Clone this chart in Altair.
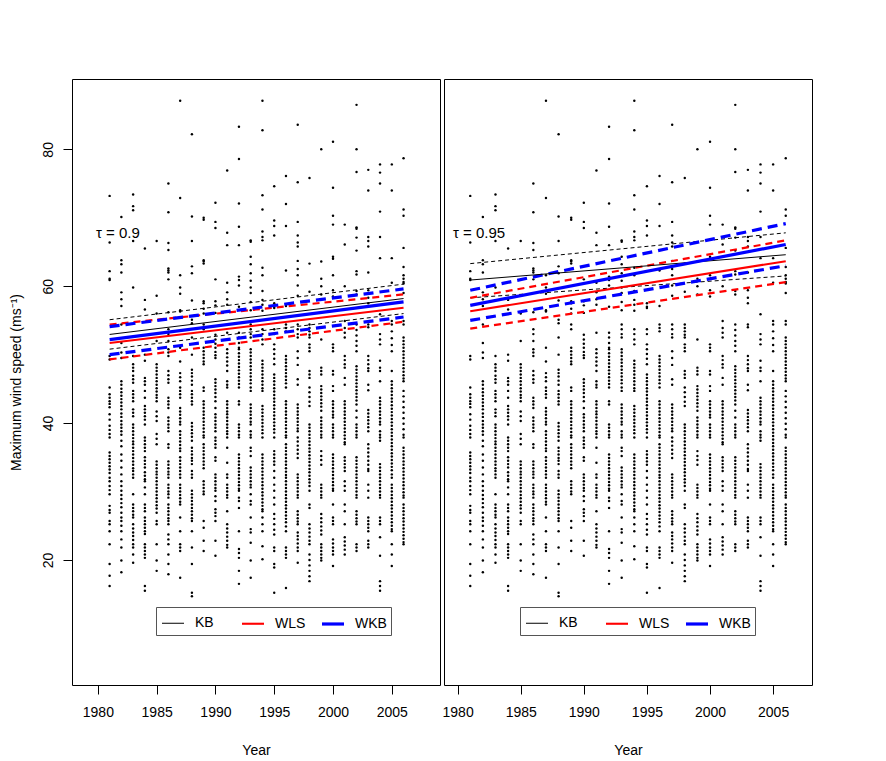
import altair as alt
import pandas as pd

FONT = "Liberation Sans"

# ---------------- scatter data: maximum wind speed per year ----------------
y1981 = [73.2, 66.4, 62.2, 61.1, 60.9, 49.8, 49.3, 45.2, 44.2, 43.7, 43.2, 42.8, 42.3, 41.3, 40.5, 39.6, 39.0, 38.4, 37.9, 35.7, 35.2, 34.7, 34.2, 33.7, 33.2, 32.7, 32.0, 31.5, 30.8, 30.2, 29.6, 27.9, 27.3, 26.9, 25.7, 25.2, 24.2, 22.3, 19.4, 17.7, 16.2]
y1982 = [70.1, 63.8, 63.2, 62.0, 59.1, 58.1, 57.1, 54.4, 51.7, 50.3, 49.5, 46.1, 45.6, 45.0, 44.5, 44.0, 43.5, 43.0, 42.5, 42.0, 41.4, 40.9, 40.3, 39.8, 39.3, 38.8, 38.3, 37.4, 36.6, 35.4, 34.5, 33.5, 32.5, 31.5, 30.8, 30.1, 29.5, 28.9, 28.3, 27.7, 26.9, 26.2, 25.7, 25.0, 24.2, 23.0, 21.8, 19.9, 18.2]
y1983 = [73.4, 71.7, 71.1, 66.6, 59.8, 49.8, 48.6, 48.1, 47.6, 46.9, 46.4, 45.9, 44.7, 44.2, 43.7, 43.2, 42.0, 41.5, 41.0, 39.8, 39.3, 38.8, 38.3, 37.8, 37.3, 36.9, 36.4, 35.9, 35.4, 34.9, 34.4, 33.9, 33.4, 33.0, 32.5, 32.0, 29.6, 28.1, 27.6, 27.1, 26.6, 26.2, 25.2, 24.6, 24.0, 23.5, 22.9, 22.3, 21.8, 20.8, 19.6]
y1984 = [65.5, 58.0, 56.6, 50.0, 49.1, 46.6, 46.1, 45.6, 44.7, 43.7, 42.5, 42.0, 41.5, 41.0, 40.5, 39.8, 37.9, 37.4, 36.9, 36.4, 35.9, 35.0, 34.5, 34.0, 33.5, 32.8, 32.3, 31.8, 31.5, 30.6, 29.6, 28.1, 27.6, 27.1, 26.2, 25.7, 25.2, 24.7, 24.2, 23.8, 22.3, 21.8, 21.3, 20.8, 20.3, 16.2, 15.5]
y1985 = [66.6, 58.6, 56.0, 52.0, 48.6, 48.1, 47.6, 47.1, 46.6, 46.1, 45.6, 45.1, 44.6, 44.1, 43.7, 43.2, 41.7, 41.0, 40.3, 38.4, 37.7, 36.9, 34.4, 33.9, 33.4, 32.9, 32.5, 32.0, 31.5, 31.0, 30.5, 30.0, 29.5, 29.0, 28.5, 28.0, 27.5, 26.9, 25.7, 25.2, 22.3, 19.9, 18.4]
y1986 = [75.0, 70.8, 66.3, 65.3, 62.6, 62.3, 62.0, 61.0, 56.2, 53.7, 53.0, 52.0, 50.8, 50.3, 49.8, 47.6, 47.0, 46.4, 45.9, 43.7, 43.2, 42.7, 42.2, 40.8, 40.3, 39.8, 39.3, 38.8, 36.9, 36.4, 34.4, 33.9, 33.4, 32.9, 32.5, 32.0, 31.0, 30.5, 30.0, 29.6, 29.1, 28.1, 27.6, 27.1, 26.6, 26.1, 25.7, 25.2, 23.7, 23.0, 22.3, 20.8, 19.4, 17.9]
y1987 = [87.1, 72.9, 61.6, 59.8, 58.9, 56.5, 56.3, 51.0, 49.0, 47.3, 46.7, 46.1, 45.2, 44.7, 44.2, 43.7, 42.2, 41.7, 41.2, 40.7, 40.2, 39.8, 38.8, 38.3, 37.8, 37.3, 36.8, 36.3, 35.9, 35.0, 34.5, 34.0, 33.5, 33.0, 32.5, 32.0, 31.0, 30.5, 30.0, 29.5, 29.0, 28.5, 28.1, 26.2, 24.2, 22.3, 21.8, 21.3, 17.4]
y1988 = [82.2, 70.2, 66.6, 62.9, 61.9, 57.9, 55.1, 54.6, 52.5, 50.0, 47.8, 47.3, 46.8, 46.2, 45.6, 44.7, 44.2, 43.7, 43.2, 42.7, 40.0, 39.5, 39.0, 38.5, 38.0, 37.4, 36.4, 35.9, 35.4, 34.9, 34.5, 34.0, 33.0, 32.5, 32.0, 30.1, 29.6, 29.1, 28.6, 28.1, 27.6, 27.1, 26.6, 26.1, 25.7, 24.2, 21.8, 19.4, 15.2, 14.7]
y1989 = [70.0, 69.7, 63.8, 63.6, 63.3, 57.8, 57.5, 56.7, 56.0, 54.4, 53.7, 51.0, 50.5, 50.0, 49.5, 49.0, 48.6, 45.2, 44.7, 43.2, 42.7, 42.2, 41.7, 41.2, 40.7, 40.2, 39.7, 39.2, 38.7, 38.2, 37.9, 36.9, 36.4, 35.9, 35.4, 34.9, 34.4, 33.9, 33.4, 31.5, 31.0, 30.5, 30.0, 29.6, 25.7, 24.7, 22.8, 21.3]
y1990 = [72.2, 69.4, 68.5, 61.0, 57.8, 57.2, 56.1, 52.9, 52.2, 51.6, 51.0, 50.4, 49.9, 49.5, 46.4, 45.9, 45.4, 44.9, 44.4, 43.8, 43.2, 42.2, 41.3, 40.8, 40.3, 39.8, 39.3, 38.8, 37.9, 37.4, 36.9, 36.4, 35.0, 34.5, 32.5, 32.0, 31.5, 31.0, 30.5, 30.1, 29.3, 28.6, 27.4, 26.9, 26.4, 25.7, 22.8, 20.6]
y1991 = [76.9, 67.8, 66.0, 60.5, 59.1, 58.1, 57.3, 53.2, 50.8, 50.2, 49.6, 49.0, 48.4, 47.6, 46.1, 45.6, 45.2, 43.2, 42.7, 42.2, 41.7, 41.3, 40.8, 40.3, 39.8, 39.3, 38.8, 38.4, 37.9, 36.4, 34.2, 32.5, 32.0, 31.0, 30.5, 30.0, 29.5, 29.1, 27.1, 25.2, 24.6, 24.0, 23.4, 22.8, 22.2, 21.8]
y1992 = [83.3, 78.6, 72.1, 68.7, 66.0, 61.4, 60.9, 60.1, 57.0, 53.2, 52.5, 51.7, 51.0, 50.8, 50.2, 49.7, 49.2, 48.7, 48.2, 47.7, 47.2, 46.7, 46.2, 45.7, 45.2, 43.2, 42.7, 39.8, 39.3, 38.8, 38.3, 37.9, 35.4, 34.9, 34.4, 33.9, 33.4, 32.9, 32.4, 31.9, 31.4, 30.9, 30.4, 30.1, 29.1, 28.6, 27.6, 24.2, 21.6, 21.0, 20.3, 18.4, 16.5]
y1993 = [66.7, 66.5, 64.3, 63.2, 61.9, 60.8, 59.8, 59.0, 57.7, 56.5, 54.4, 53.7, 53.0, 52.5, 50.8, 50.3, 49.8, 49.3, 48.8, 48.3, 47.8, 47.3, 46.8, 46.3, 45.8, 45.2, 44.7, 42.7, 42.2, 41.7, 41.2, 40.7, 40.2, 39.8, 38.8, 38.3, 37.9, 36.4, 35.9, 35.2, 33.5, 33.0, 32.5, 32.0, 31.5, 31.0, 30.6, 29.6, 28.6, 28.1, 26.2, 24.5, 24.0, 22.5, 19.9, 17.4]
y1994 = [87.1, 82.8, 73.3, 71.2, 68.0, 67.2, 66.7, 62.7, 61.6, 59.3, 58.0, 57.3, 56.4, 53.7, 53.0, 52.2, 51.5, 49.1, 48.6, 48.1, 47.6, 47.1, 46.6, 46.1, 45.6, 45.1, 44.7, 42.5, 42.0, 41.5, 41.0, 40.5, 40.0, 39.5, 39.0, 38.5, 37.9, 35.4, 34.9, 34.4, 33.9, 33.4, 32.9, 32.4, 31.9, 31.4, 30.9, 30.4, 29.9, 29.4, 28.9, 28.4, 27.9, 27.4, 27.1, 26.2, 25.2, 24.2, 22.0, 20.1]
y1995 = [74.6, 69.6, 68.8, 67.4, 57.5, 57.0, 56.8, 53.7, 53.0, 51.5, 50.8, 50.1, 49.4, 48.6, 47.1, 46.6, 46.1, 45.6, 45.1, 44.6, 44.1, 43.6, 43.1, 42.6, 42.1, 41.6, 41.1, 40.6, 40.1, 39.6, 39.1, 38.6, 37.9, 35.9, 35.4, 34.9, 34.4, 33.9, 33.0, 32.0, 31.0, 30.1, 29.1, 28.1, 26.7, 26.0, 25.2, 24.4, 23.7, 21.8, 21.3, 19.4, 18.9, 15.2]
y1996 = [76.1, 72.0, 68.8, 62.3, 57.1, 54.4, 53.9, 53.4, 49.8, 49.3, 48.8, 48.3, 47.8, 47.3, 46.8, 46.3, 45.8, 45.2, 43.2, 42.7, 42.2, 41.7, 41.2, 40.7, 40.2, 39.7, 39.2, 38.7, 38.2, 37.9, 36.9, 36.4, 35.9, 35.4, 34.9, 34.4, 33.9, 33.4, 32.9, 32.4, 32.0, 31.5, 31.0, 30.5, 30.0, 29.5, 29.0, 28.5, 28.0, 27.5, 27.0, 26.5, 26.0, 25.5, 24.9, 24.2, 21.8, 21.3, 20.8, 20.3, 15.9]
y1997 = [83.6, 75.2, 69.4, 67.4, 66.4, 65.8, 63.7, 62.5, 61.6, 60.1, 58.6, 54.4, 53.7, 53.0, 52.5, 50.5, 49.5, 48.5, 46.4, 45.6, 42.7, 42.2, 41.7, 41.2, 40.7, 40.2, 39.7, 39.2, 38.8, 37.9, 37.3, 36.7, 36.1, 35.5, 34.9, 32.5, 32.0, 31.5, 31.0, 30.5, 30.0, 29.5, 29.1, 27.1, 26.6, 26.1, 25.6, 25.2, 24.0, 23.5, 23.0, 22.4, 21.8, 21.3, 19.6]
y1998 = [75.8, 63.3, 59.2, 54.4, 53.9, 53.4, 52.9, 52.5, 51.5, 51.0, 50.5, 47.6, 47.1, 46.6, 45.2, 44.5, 43.8, 43.1, 42.5, 39.8, 39.3, 38.8, 38.3, 37.8, 37.3, 36.8, 36.3, 35.8, 35.3, 34.8, 34.3, 33.8, 33.3, 32.8, 32.3, 31.8, 31.3, 30.8, 30.1, 28.1, 27.6, 25.2, 24.6, 24.0, 23.4, 22.8, 22.3, 20.8, 20.0, 19.2, 18.4, 17.6, 16.9]
y1999 = [80.0, 63.6, 61.1, 60.0, 58.8, 52.2, 48.1, 47.6, 47.1, 45.4, 44.9, 44.4, 43.9, 43.4, 42.9, 42.4, 41.8, 40.8, 40.3, 39.8, 39.3, 38.8, 38.3, 37.9, 35.9, 35.2, 34.6, 33.9, 31.0, 30.5, 30.0, 29.5, 29.1, 26.7, 26.1, 25.5, 24.9, 24.3, 23.7, 22.3, 21.8, 21.3, 20.8, 20.3, 19.9]
y2000 = [81.1, 74.4, 70.3, 69.0, 64.3, 64.0, 61.6, 59.4, 58.5, 51.5, 51.0, 50.5, 47.6, 47.1, 45.4, 44.7, 43.2, 42.7, 42.2, 41.7, 41.2, 40.8, 39.8, 39.3, 38.8, 38.3, 37.9, 35.4, 34.9, 34.4, 33.9, 33.4, 32.9, 32.4, 31.9, 31.4, 30.9, 30.4, 30.1, 28.1, 26.2, 25.7, 25.2, 23.0, 22.4, 21.8, 21.3, 20.8, 19.1]
y2001 = [69.0, 66.1, 60.0, 54.9, 53.9, 53.2, 52.5, 49.8, 49.2, 48.6, 48.1, 46.6, 45.6, 43.2, 42.7, 42.2, 41.7, 41.2, 40.7, 40.2, 39.7, 39.2, 38.7, 38.2, 37.7, 37.2, 36.9, 35.0, 34.5, 34.0, 33.5, 33.0, 31.5, 30.8, 30.1, 28.1, 27.1, 25.2, 23.3, 22.7, 22.1, 21.5, 20.8]
y2002 = [86.5, 80.0, 76.7, 68.6, 68.4, 67.1, 65.2, 62.2, 61.7, 59.3, 58.8, 54.4, 53.6, 52.8, 52.0, 51.3, 50.5, 48.3, 47.8, 47.3, 46.8, 46.3, 45.8, 45.3, 44.8, 44.3, 43.8, 43.3, 42.7, 41.8, 40.8, 39.8, 39.3, 38.8, 38.3, 37.9, 35.0, 34.5, 34.0, 33.5, 33.0, 32.5, 32.0, 31.5, 31.0, 30.5, 30.0, 29.5, 29.1, 27.1, 26.6, 26.1, 25.6, 25.2, 22.3, 21.8, 21.3]
y2003 = [77.0, 74.0, 67.2, 66.6, 65.8, 62.0, 59.4, 58.3, 57.5, 54.4, 54.0, 49.8, 49.2, 48.6, 48.0, 47.6, 45.6, 44.8, 41.9, 41.4, 40.9, 40.4, 39.9, 39.4, 38.8, 36.9, 36.3, 35.7, 35.1, 34.5, 33.9, 33.3, 33.0, 31.0, 30.1, 29.1, 26.2, 25.7, 25.2, 24.7, 24.2, 22.8, 22.3, 21.8]
y2004 = [77.8, 76.6, 75.0, 70.9, 67.2, 64.1, 55.9, 53.0, 52.2, 51.5, 49.1, 48.1, 47.6, 46.1, 43.7, 43.2, 42.7, 42.2, 41.7, 41.2, 40.7, 40.2, 39.8, 38.8, 38.3, 37.9, 37.4, 34.0, 33.5, 33.0, 32.5, 32.0, 31.5, 31.0, 30.5, 30.0, 29.5, 29.1, 26.2, 25.7, 25.2, 23.3, 20.6, 16.9, 16.2, 15.5]
y2005 = [77.8, 74.0, 64.1, 60.5, 54.9, 54.4, 53.4, 52.4, 51.4, 50.5, 47.6, 46.1, 45.6, 45.1, 44.6, 44.1, 43.6, 43.1, 42.6, 42.1, 41.6, 41.1, 40.6, 40.1, 39.6, 39.1, 38.6, 38.1, 37.6, 37.1, 36.6, 36.1, 35.6, 35.1, 34.6, 34.1, 33.6, 33.1, 32.5, 32.0, 31.0, 30.5, 30.0, 29.5, 29.0, 28.5, 28.0, 27.5, 27.0, 26.5, 26.0, 25.5, 25.0, 24.5, 24.2, 22.3, 20.8, 19.1]
y2006 = [78.7, 71.2, 70.3, 65.6, 62.8, 61.6, 61.1, 60.6, 60.4, 59.0, 54.9, 54.4, 52.5, 52.0, 51.5, 51.0, 50.5, 50.0, 49.5, 49.0, 48.5, 48.0, 47.5, 47.0, 46.5, 46.1, 44.7, 43.9, 43.1, 42.3, 41.5, 40.7, 39.9, 39.1, 38.3, 37.9, 36.4, 35.9, 35.4, 34.9, 34.4, 33.9, 33.4, 32.9, 32.4, 31.9, 31.4, 30.9, 30.4, 29.9, 29.4, 29.1, 28.1, 27.6, 27.1, 26.6, 26.1, 25.6, 25.1, 24.6, 24.1, 23.6, 23.1, 22.6, 22.3]

years = list(range(1981, 2007))
wind_lists = [y1981, y1982, y1983, y1984, y1985, y1986, y1987, y1988, y1989,
              y1990, y1991, y1992, y1993, y1994, y1995, y1996, y1997, y1998,
              y1999, y2000, y2001, y2002, y2003, y2004, y2005, y2006]

# ---------------- fitted quantile lines (value at 1981 and 2006) ----------------
fit_years = [1981, 2006]
methods = ["KB", "WLS", "WKB"]
method_colors = ["black", "red", "blue"]
method_widths = [1.0, 2.2, 3.2]
legend_width_range = [1.0, 3.2]
dash_patterns = [[4, 3], [7, 5], [10, 6]]

# tau = 0.9
kb09_fit = [52.95, 58.2]
kb09_lo = [50.8, 56.0]
kb09_hi = [55.1, 60.3]
wls09_fit = [51.7, 56.85]
wls09_lo = [49.3, 54.8]
wls09_hi = [54.4, 58.8]
wkb09_fit = [52.2, 57.7]
wkb09_lo = [50.0, 55.5]
wkb09_hi = [54.1, 59.6]

# tau = 0.95
kb95_fit = [60.9, 64.6]
kb95_lo = [58.3, 61.5]
kb95_hi = [63.3, 67.8]
wls95_fit = [56.35, 63.65]
wls95_lo = [53.8, 60.6]
wls95_hi = [58.3, 66.7]
wkb95_fit = [57.2, 66.1]
wkb95_lo = [55.0, 63.0]
wkb95_hi = [59.4, 69.15]

tau_labels = ["\u03c4 = 0.9", "\u03c4 = 0.95"]
tau_label_year = 1981.7
tau_label_speed = 67.8

x_ticks = [1980, 1985, 1990, 1995, 2000, 2005]
y_ticks = [20, 40, 60, 80]
y_domain = [1.72, 90.28]
x_domain_left = [1977.8, 2009.1]
x_domain_right = [1978.92, 2008.08]

# ---------------- build tables ----------------
pts_rows = []
for yr, vals in zip(years, wind_lists):
    for v in vals:
        pts_rows.append({"year": yr, "speed": v})
points_df = pd.DataFrame(pts_rows)


def line_df(fits):
    rows = []
    for m in methods:
        lo, fit, hi = fits[m]
        for band, vals in (("lower", lo), ("fit", fit), ("upper", hi)):
            for yr, v in zip(fit_years, vals):
                rows.append({"method": m, "band": band, "year": yr, "speed": v})
    return pd.DataFrame(rows)


lines09 = line_df({"KB": (kb09_lo, kb09_fit, kb09_hi),
                   "WLS": (wls09_lo, wls09_fit, wls09_hi),
                   "WKB": (wkb09_lo, wkb09_fit, wkb09_hi)})
lines95 = line_df({"KB": (kb95_lo, kb95_fit, kb95_hi),
                   "WLS": (wls95_lo, wls95_fit, wls95_hi),
                   "WKB": (wkb95_lo, wkb95_fit, wkb95_hi)})


def panel(lines, label, xdom, show_y, legend_x):
    xenc = alt.X("year:Q",
                 scale=alt.Scale(domain=xdom, nice=False, zero=False),
                 axis=alt.Axis(values=x_ticks, format="d", title="Year",
                               tickSize=9, labelPadding=11, titlePadding=24,
                               domain=False, grid=False))
    if show_y:
        yaxis = alt.Axis(values=y_ticks, title="Maximum wind speed (ms\u207b\u00b9)",
                         labelAngle=270, labelAlign="center", labelBaseline="bottom",
                         tickSize=9, labelPadding=8, titlePadding=18,
                         domain=False, grid=False)
    else:
        yaxis = None
    yenc = alt.Y("speed:Q", scale=alt.Scale(domain=y_domain, nice=False, zero=False),
                 axis=yaxis)

    layers = [alt.Chart(points_df).mark_circle(size=6, color="black", opacity=1)
              .encode(x=xenc, y=yenc)]

    for m, col, w, dash in zip(methods, method_colors, method_widths, dash_patterns):
        sub = lines[(lines["method"] == m) & (lines["band"] != "fit")]
        layers.append(alt.Chart(sub).mark_line(color=col, strokeWidth=w, strokeDash=dash)
                      .encode(x=xenc, y=yenc, detail="band:N"))

    leg = alt.Legend(orient="none", legendX=legend_x, legendY=528, direction="horizontal",
                     columns=3, title=None, symbolType="stroke", symbolSize=484,
                     labelFontSize=14, labelFont=FONT, labelOffset=9, columnPadding=8,
                     gridAlign="all", padding=4, strokeColor="#555", fillColor="white",
                     labelColor="black")
    fit = lines[lines["band"] == "fit"]
    layers.append(alt.Chart(fit).mark_line().encode(
        x=xenc, y=yenc,
        color=alt.Color("method:N", scale=alt.Scale(domain=methods, range=method_colors),
                        legend=leg),
        strokeWidth=alt.StrokeWidth("method:N",
                                    scale=alt.Scale(domain=methods, range=legend_width_range),
                                    legend=leg),
    ))

    txt = pd.DataFrame({"year": [tau_label_year], "speed": [tau_label_speed], "label": [label]})
    layers.append(alt.Chart(txt).mark_text(font=FONT, fontSize=15, color="black",
                                           align="center", baseline="middle")
                  .encode(x=xenc, y=yenc, text="label:N"))
    return alt.layer(*layers).properties(width=368, height=606)


left = panel(lines09, tau_labels[0], x_domain_left, True, 84)
right = panel(lines95, tau_labels[1], x_domain_right, False, 76)

chart = (alt.hconcat(left, right, spacing=0)
         .resolve_scale(x="independent", color="independent", strokeWidth="independent")
         .resolve_legend(color="independent", strokeWidth="independent")
         .properties(padding={"left": 0, "top": 70, "right": 5, "bottom": 0})
         .configure_view(stroke="black", strokeWidth=1)
         .configure_axis(labelFont=FONT, titleFont=FONT, labelFontSize=14, titleFontSize=14,
                         labelColor="black", titleColor="black", tickColor="black",
                         titleFontWeight="normal"))

chart.save("out.html", embed_options={"renderer": "svg", "actions": False})
